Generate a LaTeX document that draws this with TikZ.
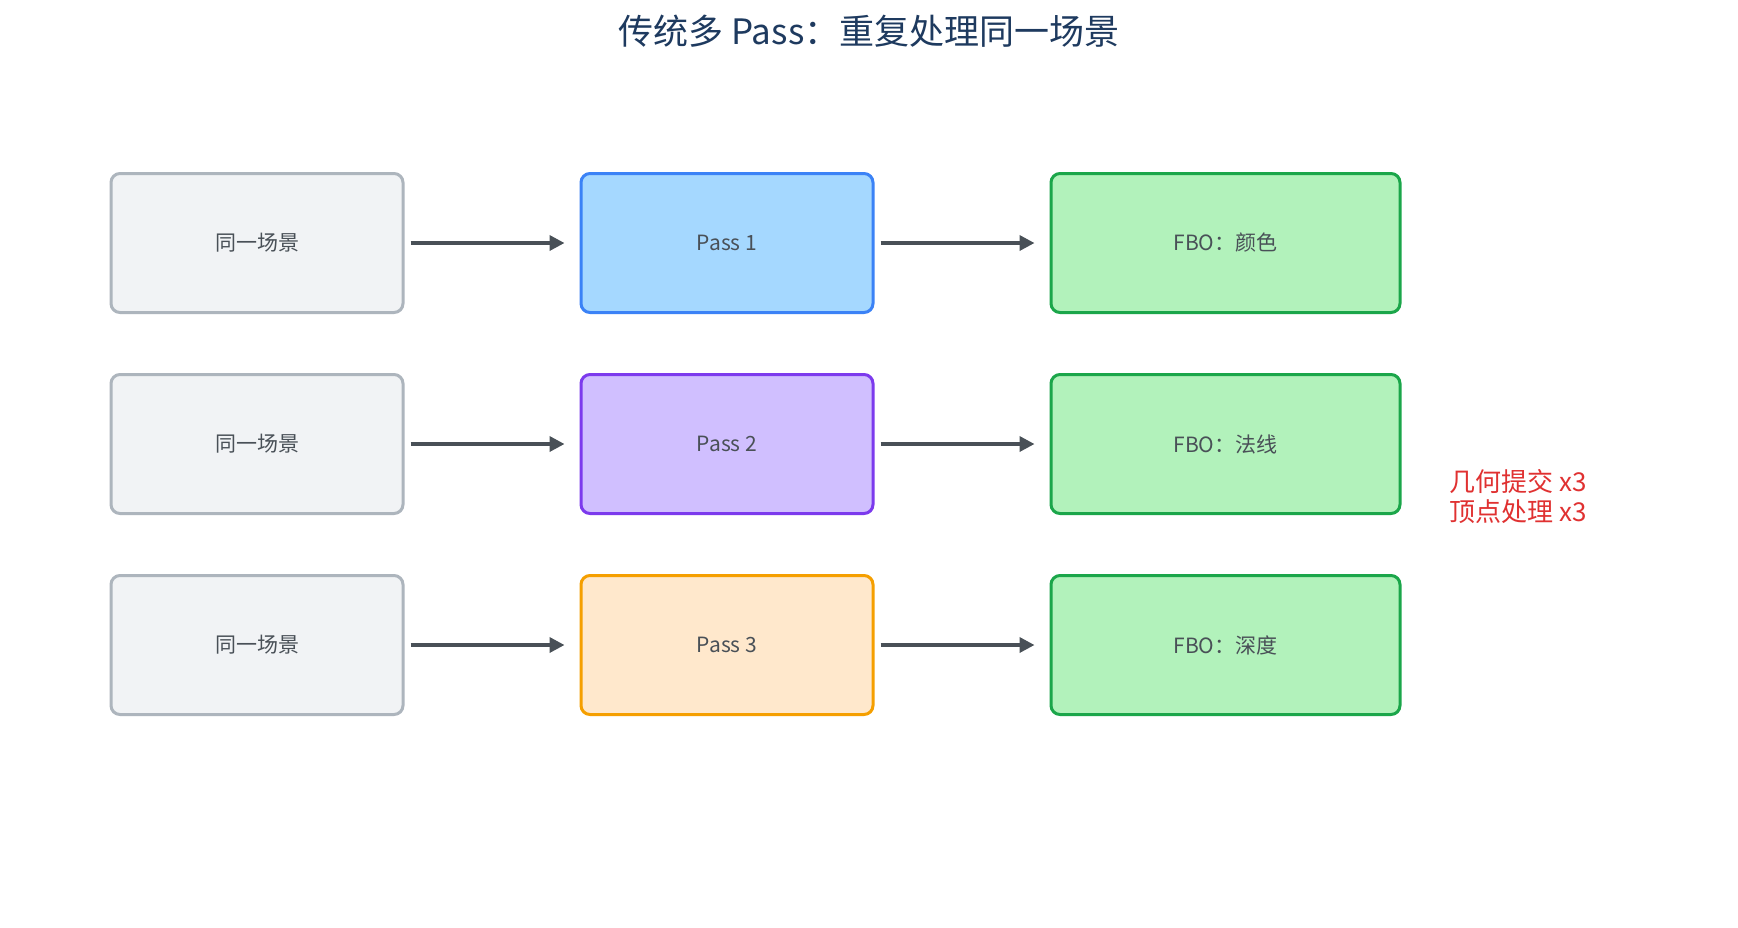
\documentclass[tikz,border=0pt]{standalone}
\usepackage{fontspec}
\setmainfont{Noto Sans CJK SC}
\usepackage{tikz}
\usetikzlibrary{arrows.meta, positioning}

\definecolor{sceneFill}{HTML}{F1F3F5}
\definecolor{sceneLine}{HTML}{ADB5BD}
\definecolor{passAFill}{HTML}{A5D8FF}
\definecolor{passALine}{HTML}{3B82F6}
\definecolor{passBFill}{HTML}{D0BFFF}
\definecolor{passBLine}{HTML}{7C3AED}
\definecolor{passCFill}{HTML}{FFE8CC}
\definecolor{passCLine}{HTML}{F59F00}
\definecolor{fboFill}{HTML}{B2F2BB}
\definecolor{fboLine}{HTML}{1BA64A}
\definecolor{arrowGray}{HTML}{495057}
\definecolor{titleBlue}{HTML}{1E3A5F}
\definecolor{noteRed}{HTML}{E03131}

\tikzset{
  box/.style={draw, rounded corners=9pt, line width=3pt, minimum width=292pt, minimum height=139pt,
    text=arrowGray, font=\fontsize{21}{25}\selectfont},
  scenebox/.style={box, fill=sceneFill, draw=sceneLine},
  fbobox/.style={box, fill=fboFill, draw=fboLine, minimum width=349pt},
  flow/.style={-{Triangle[length=15pt,width=15pt]}, line width=3.5pt, draw=arrowGray,
    shorten <=6pt, shorten >=15pt}
}

\begin{document}
\begin{tikzpicture}[x=1pt, y=1pt, node distance=59pt and 175pt]

\useasboundingbox[fill=white] (0,0) rectangle (1738,-927);

% title
\node[text=titleBlue, font=\fontsize{35}{42}\selectfont] (title) at (869,-31) {传统多 Pass：重复处理同一场景};

% same scene, three times
\node[scenebox] (scene1) at (257,-243) {同一场景};
\node[scenebox, below=of scene1] (scene2) {同一场景};
\node[scenebox, below=of scene2] (scene3) {同一场景};

% passes
\node[box, fill=passAFill, draw=passALine, right=of scene1] (pass1) {Pass 1};
\node[box, fill=passBFill, draw=passBLine, right=of scene2] (pass2) {Pass 2};
\node[box, fill=passCFill, draw=passCLine, right=of scene3] (pass3) {Pass 3};

% render targets
\node[fbobox, right=of pass1] (fbo1) {FBO：颜色};
\node[fbobox, right=of pass2] (fbo2) {FBO：法线};
\node[fbobox, right=of pass3] (fbo3) {FBO：深度};

% arrows
\foreach \i in {1,2,3} {
  \draw[flow] (scene\i) -- (pass\i);
  \draw[flow] (pass\i) -- (fbo\i);
}

% cost note
\node[text=noteRed, font=\fontsize{26}{30}\selectfont, align=left, anchor=west] (note) at (1446,-497)
  {几何提交 x3\\顶点处理 x3};

\end{tikzpicture}
\end{document}
